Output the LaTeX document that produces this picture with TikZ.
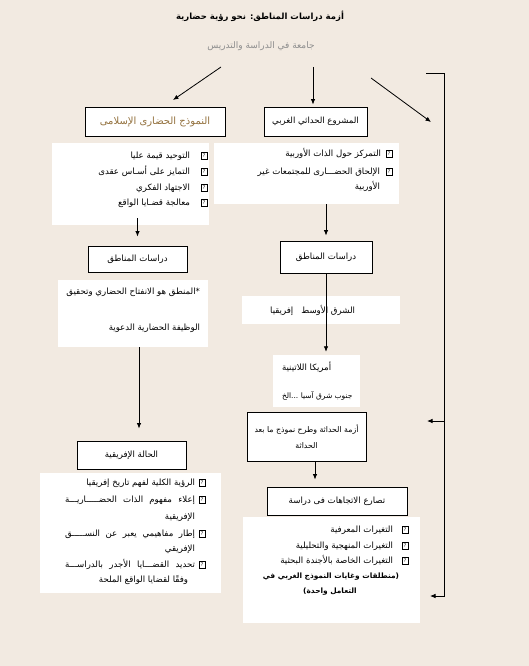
\documentclass[tikz,border=0pt]{standalone}
\usepackage{fontspec}
\usetikzlibrary{arrows.meta}
\TeXXeTstate=1
\newfontfamily\arfont[Script=Arabic]{DejaVu Sans}
\definecolor{bgc}{HTML}{F2EAE1}
\definecolor{brownc}{HTML}{94723F}
\definecolor{grayc}{HTML}{8E8E8E}
\newcommand{\AR}[1]{\beginR #1\endR}
\newcommand{\bodyfont}{\arfont\fontsize{8.6}{10}\selectfont}
\tikzset{
  txt/.style={font=\bodyfont, inner sep=0pt, outer sep=0pt},
  bbox/.style={draw=black, line width=0.9pt, fill=white, inner sep=2pt},
  wbox/.style={fill=white, draw=none, inner sep=0pt},
  chk/.style={draw=black, line width=0.45pt, fill=white, inner sep=0pt, minimum width=6pt, minimum height=7pt, font=\sffamily\fontsize{5.5}{5.5}\selectfont},
  arr/.style={-{Latex[length=5.5pt,width=4.5pt]}, line width=0.8pt},
}
\begin{document}
\begin{tikzpicture}[x=1pt,y=-1pt]
\fill[bgc] (0,0) rectangle (529,666);
\useasboundingbox (0,0) rectangle (529,666);

% title
\node[txt, font=\arfont\bfseries\fontsize{8.5}{10}\selectfont] (title) at (260,16) {\AR{أزمة دراسات المناطق: نحو رؤية حضارية}};
\node[txt, text=grayc, font=\arfont\fontsize{9}{10}\selectfont] (sub) at (261,46) {\AR{جامعة في الدراسة والتدريس}};

% boxes
\node[bbox, minimum width=140pt, minimum height=29pt, text=brownc, font=\arfont\fontsize{10}{11}\selectfont] (islamic) at (155,121.5) {\AR{النموذج الحضارى الإسلامى}};
\node[bbox, minimum width=103pt, minimum height=29pt, font=\arfont\fontsize{8.5}{10}\selectfont] (western) at (315.5,121.5) {\AR{المشروع الحداثي الغربي}};
\node[wbox, minimum width=157pt, minimum height=82pt] (lbul) at (130.5,184) {};
\node[wbox, minimum width=185pt, minimum height=61pt] (rbul) at (306.5,173.5) {};
\node[bbox, minimum width=99pt, minimum height=26pt, font=\bodyfont] (lreg) at (137.5,259) {\AR{دراسات المناطق}};
\node[bbox, minimum width=92pt, minimum height=32pt, font=\bodyfont] (rreg) at (326,257) {\AR{دراسات المناطق}};
\node[wbox, minimum width=150pt, minimum height=67pt] (ltext) at (133,313.5) {};
\node[wbox, minimum width=158pt, minimum height=28pt] (mideast) at (321,310) {};
\node[wbox, minimum width=87pt, minimum height=52pt] (latam) at (316.5,381) {};
\node[bbox, minimum width=109pt, minimum height=28pt, font=\bodyfont] (africa) at (131.5,455) {\AR{الحالة الإفريقية}};
\node[bbox, minimum width=119pt, minimum height=49pt, font=\arfont\fontsize{7.8}{16}\selectfont, align=center] (crisis) at (306.5,436.5) {\AR{أزمة الحداثة وطرح نموذج ما بعد}\\\AR{الحداثة}};
\node[wbox, minimum width=181pt, minimum height=120pt] (lbot) at (130.5,533) {};
\node[bbox, minimum width=140pt, minimum height=28pt, font=\bodyfont] (clash) at (337,501) {\AR{تصارع الاتجاهات فى دراسة}};
\node[wbox, minimum width=177pt, minimum height=106pt] (rbot) at (331.5,570) {};

% left bullets
\node[chk] (lc1) at (204,156) {?};
\node[chk] (lc2) at (204,172) {?};
\node[chk] (lc3) at (204,188) {?};
\node[chk] (lc4) at (204,203) {?};
\node[txt, anchor=mid east] (l1) at (190,156) {\AR{التوحيد قيمة عليا}};
\node[txt, anchor=mid east] (l2) at (190,172) {\AR{التمايز على أسـاس عقدى}};
\node[txt, anchor=mid east] (l3) at (190,188) {\AR{الاجتهاد الفكري}};
\node[txt, anchor=mid east] (l4) at (190,203) {\AR{معالجة قضـايا الواقع}};

% right bullets
\node[chk] (rc1) at (389,154) {?};
\node[chk] (rc2) at (389,172) {?};
\node[txt, anchor=mid east] (r1) at (381,154) {\AR{التمركز حول الذات الأوربية}};
\node[txt, anchor=mid east] (r2) at (380,172) {\AR{الإلحاق الحضـــارى للمجتمعات غير}};
\node[txt, anchor=mid east] (r3) at (380,187) {\AR{الأوربية}};

% left text
\node[txt, anchor=mid east] (lt1) at (200,292) {\AR{*المنطق هو الانفتاح الحضاري وتحقيق}};
\node[txt, anchor=mid east] (lt2) at (200,328) {\AR{الوظيفة الحضارية الدعوية}};

% regions
\node[txt, anchor=mid east] (me) at (355,311) {\AR{الشرق الأوسط\hspace{8pt}إفريقيا}};
\node[txt, anchor=mid west] (la1) at (282,368) {\AR{أمريكا اللاتينية}};
\node[txt, font=\arfont\fontsize{7.5}{8}\selectfont, anchor=mid west] (la2) at (282,396) {\AR{جنوب شرق آسيا ...الخ}};

% african bullets
\node[chk] (ac1) at (202,483) {?};
\node[chk] (ac2) at (202,500) {?};
\node[chk] (ac3) at (202,534) {?};
\node[chk] (ac4) at (202,565) {?};
\node[txt, anchor=mid east] (a1) at (195,483) {\AR{الرؤية الكلية لفهم تاريخ إفريقيا}};
\node[txt, anchor=mid east] (a2) at (195,500) {\hbox to 130pt{\beginR إعلاء\hfill مفهوم\hfill الذات\hfill الحضـــــاريـــة\endR}};
\node[txt, anchor=mid east] (a2b) at (195,517) {\AR{الإفريقية}};
\node[txt, anchor=mid east] (a3) at (195,534) {\hbox to 130pt{\beginR إطار\hfill مفاهيمي\hfill يعبر\hfill عن\hfill النســـــق\endR}};
\node[txt, anchor=mid east] (a3b) at (195,549) {\AR{الإفريقي}};
\node[txt, anchor=mid east] (a4) at (195,565) {\hbox to 130pt{\beginR تحديد\hfill القضـــايا\hfill الأجدر\hfill بالدراســـة\endR}};
\node[txt, anchor=mid east] (a4b) at (188,580) {\AR{وفقًا لقضايا الواقع الملحة}};

% right bottom bullets
\node[chk] (bc1) at (405,530) {?};
\node[chk] (bc2) at (405,546) {?};
\node[chk] (bc3) at (405,561) {?};
\node[txt, anchor=mid east] (b1) at (393,530) {\AR{التغيرات المعرفية}};
\node[txt, anchor=mid east] (b2) at (393,546) {\AR{التغيرات المنهجية والتحليلية}};
\node[txt, anchor=mid east] (b3) at (393,561) {\AR{التغيرات الخاصة بالأجندة البحثية}};
\node[txt, font=\arfont\bfseries\fontsize{7.4}{9}\selectfont] (b4) at (331,577) {\AR{(منطلقات وغايات النموذج الغربي في}};
\node[txt, font=\arfont\bfseries\fontsize{7.4}{9}\selectfont] (b5) at (330,592) {\AR{التعامل واحدة)}};

% connectors
\coordinate (tl0) at (221,67);
\coordinate (tl1) at (173,100);
\coordinate (tm0) at (313,67);
\coordinate (tr0) at (371,78);
\coordinate (tr1) at (431,122);
\draw[arr] (tl0) -- (tl1);
\draw[arr, shorten >=2pt] (tm0) -- (tm0 |- western.north);
\draw[arr] (tr0) -- (tr1);

\coordinate (lb) at ([yshift=7pt]lbul.south -| lreg.north);
\draw[arr, shorten >=9pt] (lb) -- (lreg.north);
\draw[arr, shorten >=5pt] (rbul.south -| rreg.north) -- (rreg.north);
\draw[arr, shorten >=3pt] (rreg.south) -- (rreg.south |- latam.north);
\coordinate (la) at ([xshift=6pt]ltext.south);
\draw[arr, shorten >=12pt] (la) -- (la |- africa.north);
\coordinate (ca) at ([xshift=8.5pt]crisis.south);
\draw[arr, shorten >=7pt] (ca) -- (ca |- clash.north);

\coordinate (bt0) at (426,73);
\coordinate (bt1) at (444,73);
\coordinate (bb) at (444,596);
\coordinate (be) at (430,596);
\coordinate (bm) at (444,421);
\coordinate (bme) at (427,421);
\draw[arr] (bt0) -- (bt1) -- (bb) -- (be);
\draw[arr] (bm) -- (bme);
\end{tikzpicture}
\end{document}
